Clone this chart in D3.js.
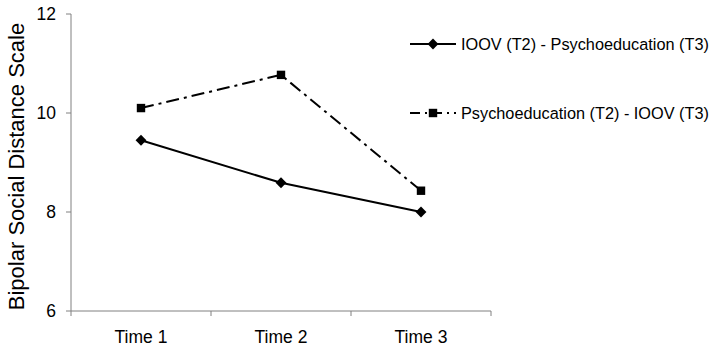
<!DOCTYPE html>
<html lang="en">
<head>
    <meta charset="UTF-8">
    <title>Bipolar Social Distance Scale</title>
    <script src="https://d3js.org/d3.v7.min.js"></script>
    <style>
        body {
            margin: 0;
            background: #fff;
            font-family: "Liberation Sans", Arial, sans-serif;
        }
        svg text { fill: #000; }
    </style>
</head>
<body>
    <div id="chart"></div>
    <script>
        // Data
        const categories = ["Time 1", "Time 2", "Time 3"];
        const seriesNames = ["IOOV (T2) - Psychoeducation (T3)", "Psychoeducation (T2) - IOOV (T3)"];
        const iovFirst = [9.45, 8.59, 8.0];
        const psychoFirst = [10.1, 10.77, 8.43];
        const yTicks = [6, 8, 10, 12];

        const width = 713;
        const height = 349;
        const margin = { top: 14, right: 222, bottom: 38, left: 71 };

        const svg = d3.select("#chart")
            .append("svg")
            .attr("width", width)
            .attr("height", height);

        const x = d3.scaleBand()
            .domain(categories)
            .range([margin.left, width - margin.right]);

        const y = d3.scaleLinear()
            .domain([6, 12])
            .range([height - margin.bottom, margin.top]);

        const axisColor = "#808080";
        const x0 = margin.left;
        const y0 = y(6);
        const dashDot = "13,5,3,5";

        // Y axis
        svg.append("line")
            .attr("x1", x0).attr("x2", x0)
            .attr("y1", y(12)).attr("y2", y0)
            .attr("stroke", axisColor).attr("stroke-width", 1);

        svg.selectAll(".ytick")
            .data(yTicks)
            .join("line")
            .attr("x1", x0 - 5).attr("x2", x0)
            .attr("y1", d => y(d)).attr("y2", d => y(d))
            .attr("stroke", axisColor);

        svg.selectAll(".ylabel")
            .data(yTicks)
            .join("text")
            .attr("x", x0 - 15)
            .attr("y", d => y(d))
            .attr("dy", "0.35em")
            .attr("text-anchor", "end")
            .attr("font-size", 17.5)
            .text(d => d);

        // X axis
        svg.append("line")
            .attr("x1", x0).attr("x2", x.range()[1])
            .attr("y1", y0).attr("y2", y0)
            .attr("stroke", axisColor);

        const edges = categories.map(c => x(c)).concat([x.range()[1]]);
        svg.selectAll(".xtick")
            .data(edges)
            .join("line")
            .attr("x1", d => d).attr("x2", d => d)
            .attr("y1", y0).attr("y2", y0 + 5)
            .attr("stroke", axisColor);

        svg.selectAll(".xlabel")
            .data(categories)
            .join("text")
            .attr("x", d => x(d) + x.bandwidth() / 2)
            .attr("y", y0 + 32)
            .attr("text-anchor", "middle")
            .attr("font-size", 17.5)
            .text(d => d);

        // Axis title
        svg.append("text")
            .attr("transform", `translate(24, ${(y(12) + y0) / 2 + 4}) rotate(-90)`)
            .attr("text-anchor", "middle")
            .attr("font-size", 22)
            .text("Bipolar Social Distance Scale");

        const cx = d => x(d) + x.bandwidth() / 2;
        const line = d3.line()
            .x((d, i) => cx(categories[i]))
            .y(d => y(d));

        const diamond = d3.symbol().type(d3.symbolDiamond2).size(75);
        const square = d3.symbol().type(d3.symbolSquare2).size(90);

        // Series 2: dash-dot with squares
        svg.append("path")
            .datum(psychoFirst)
            .attr("d", line)
            .attr("fill", "none")
            .attr("stroke", "#000")
            .attr("stroke-width", 2)
            .attr("stroke-dasharray", dashDot);

        svg.selectAll(".sq")
            .data(psychoFirst)
            .join("path")
            .attr("transform", (d, i) => `translate(${cx(categories[i])},${y(d)})`)
            .attr("d", square)
            .attr("fill", "#000");

        // Series 1: solid with diamonds
        svg.append("path")
            .datum(iovFirst)
            .attr("d", line)
            .attr("fill", "none")
            .attr("stroke", "#000")
            .attr("stroke-width", 2);

        svg.selectAll(".dm")
            .data(iovFirst)
            .join("path")
            .attr("transform", (d, i) => `translate(${cx(categories[i])},${y(d)})`)
            .attr("d", diamond)
            .attr("fill", "#000");

        // Legend
        const legendY = [44, 113];
        const legend = svg.selectAll(".legend")
            .data(seriesNames)
            .join("g")
            .attr("transform", (d, i) => `translate(410, ${legendY[i]})`);

        legend.append("line")
            .attr("x1", 0).attr("x2", 46)
            .attr("y1", 0).attr("y2", 0)
            .attr("stroke", "#000")
            .attr("stroke-width", 2)
            .attr("stroke-dasharray", (d, i) => i === 0 ? null : "10,5,2,5");

        legend.append("path")
            .attr("transform", "translate(23,0)")
            .attr("d", (d, i) => i === 0 ? diamond() : square())
            .attr("fill", "#000");

        legend.append("text")
            .attr("x", 51)
            .attr("y", 0)
            .attr("dy", "0.35em")
            .attr("font-size", 16.3)
            .text(d => d);
    </script>
</body>
</html>
